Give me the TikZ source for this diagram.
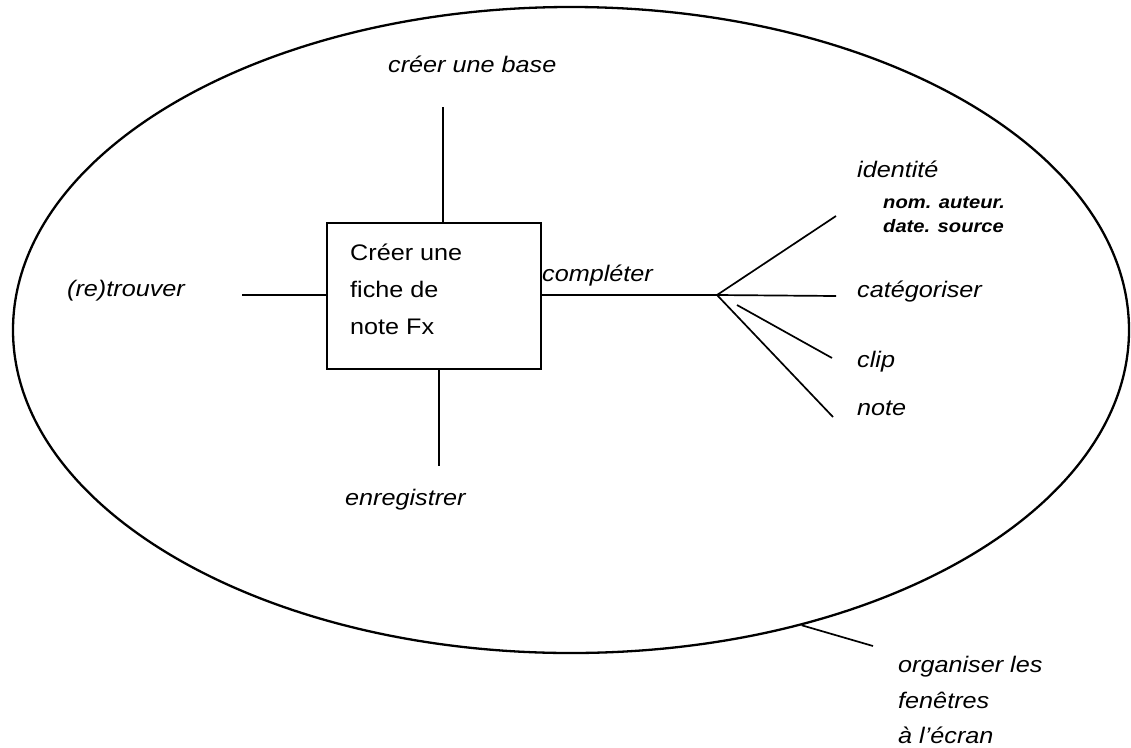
\documentclass[tikz,border=0pt]{standalone}
\usepackage{fontspec}
\setmainfont{Liberation Sans}[FakeStretch=1.12]
\usetikzlibrary{shapes.geometric}
\tikzset{
  lbl/.style={anchor=base west, inner sep=0pt, font=\fontsize{22.5}{27}\selectfont\itshape},
  sublbl/.style={anchor=base west, inner sep=0pt, font=\fontsize{18}{22}\selectfont\bfseries\itshape},
  ln/.style={line width=1.7pt},
}
\begin{document}
\begin{tikzpicture}[x=1pt,y=-1pt]
\useasboundingbox (0,0) rectangle (1131,747);
% big oval
\node[draw, ellipse, line width=2.3pt, minimum width=1116pt, minimum height=646pt, inner sep=0pt] (oval) at (571,330) {};
% central box
\node[draw, line width=1.8pt, minimum width=214pt, minimum height=146pt, inner sep=0pt] (box) at (434,296) {};
\node[anchor=west, inner sep=0pt, align=left, font=\fontsize{22.5}{37}\selectfont] (boxtext) at (350,289) {Créer une\\fiche de\\note Fx};
% labels
\node[lbl] (base) at (388,72) {créer une base};
\node[lbl] (trouver) at (67,296) {(re)trouver};
\node[lbl] (completer) at (542,281) {compléter};
\node[lbl] (enreg) at (345,505) {enregistrer};
\node[lbl] (ident) at (857,177) {identité};
\node[sublbl] (nom) at (883,208) {nom. auteur.};
\node[sublbl] (date) at (883,232) {date. source};
\node[lbl] (categ) at (857,297) {catégoriser};
\node[lbl] (clip) at (857,367) {clip};
\node[lbl] (note) at (857,415) {note};
\node[anchor=west, inner sep=0pt, align=left, font=\fontsize{22.5}{35.5}\selectfont\itshape] (organiser) at (898,700) {organiser les\\fenêtres\\à l'écran};
% free ends
\coordinate (tEnd) at (443,107);
\coordinate (bEnd) at (439,466);
\coordinate (lEnd) at (242,295);
\coordinate (fan) at (717,295);
\coordinate (fIdent) at (836,216);
\coordinate (fCateg) at (836,296);
\coordinate (fClipA) at (737,305);
\coordinate (fClip) at (832,358);
\coordinate (fNote) at (833,417);
\coordinate (orgEnd) at (873,646);
% connectors
\draw[ln] (tEnd) -- (tEnd |- box.north);
\draw[ln] (bEnd |- box.south) -- (bEnd);
\draw[ln] (lEnd) -- (lEnd -| box.west);
\draw[ln] (fan -| box.east) -- (fan);
\draw[ln] (fan) -- (fIdent);
\draw[ln] (fan) -- (fCateg);
\draw[ln] (fClipA) -- (fClip);
\draw[ln] (fan) -- (fNote);
\draw[ln] (oval.-52.8) -- (orgEnd);
\end{tikzpicture}
\end{document}
